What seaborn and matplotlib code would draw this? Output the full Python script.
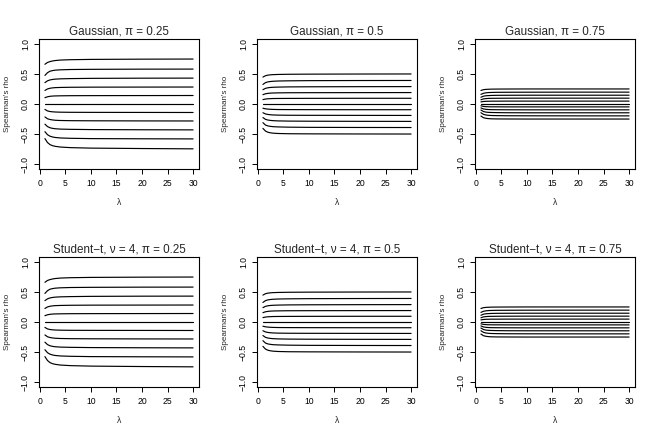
import numpy as np
import pandas as pd
import matplotlib
matplotlib.use('Agg')
import matplotlib.pyplot as plt
import seaborn as sns

sns.set_theme(style='ticks')
plt.rcParams['font.family'] = ['Liberation Sans', 'DejaVu Sans']

lam = [1, 1.5, 2, 2.5, 3, 4, 6, 10, 20, 30]

# Spearman's rho curves, top to bottom (11 curves per panel)
gauss_025 = [
    [0.66, 0.69, 0.705, 0.715, 0.722, 0.73, 0.736, 0.741, 0.745, 0.747],
    [0.475, 0.52, 0.545, 0.555, 0.562, 0.568, 0.573, 0.576, 0.579, 0.58],
    [0.355, 0.385, 0.40, 0.408, 0.413, 0.418, 0.422, 0.426, 0.429, 0.43],
    [0.225, 0.25, 0.262, 0.268, 0.272, 0.275, 0.278, 0.28, 0.281, 0.282],
    [0.105, 0.12, 0.128, 0.132, 0.134, 0.136, 0.138, 0.139, 0.14, 0.141],
    [0, 0, 0, 0, 0, 0, 0, 0, 0, 0],
    [-0.09, -0.115, -0.125, -0.13, -0.133, -0.136, -0.138, -0.139, -0.14, -0.141],
    [-0.215, -0.245, -0.258, -0.265, -0.27, -0.274, -0.277, -0.279, -0.281, -0.282],
    [-0.335, -0.375, -0.395, -0.405, -0.411, -0.417, -0.421, -0.425, -0.428, -0.43],
    [-0.46, -0.51, -0.535, -0.548, -0.556, -0.564, -0.57, -0.575, -0.578, -0.58],
    [-0.575, -0.64, -0.675, -0.693, -0.703, -0.715, -0.725, -0.733, -0.74, -0.745],
]
gauss_05 = [
    [0.447, 0.47, 0.48, 0.485, 0.488, 0.491, 0.494, 0.496, 0.498, 0.499],
    [0.325, 0.355, 0.368, 0.374, 0.378, 0.382, 0.385, 0.388, 0.39, 0.391],
    [0.238, 0.26, 0.27, 0.275, 0.278, 0.281, 0.284, 0.286, 0.288, 0.289],
    [0.155, 0.17, 0.177, 0.181, 0.183, 0.185, 0.187, 0.188, 0.189, 0.19],
    [0.073, 0.082, 0.087, 0.089, 0.091, 0.092, 0.093, 0.094, 0.095, 0.095],
    [0, 0, 0, 0, 0, 0, 0, 0, 0, 0],
    [-0.07, -0.08, -0.085, -0.088, -0.09, -0.092, -0.093, -0.094, -0.095, -0.095],
    [-0.145, -0.165, -0.174, -0.179, -0.182, -0.185, -0.187, -0.188, -0.189, -0.19],
    [-0.225, -0.255, -0.267, -0.273, -0.277, -0.281, -0.284, -0.286, -0.288, -0.289],
    [-0.31, -0.35, -0.365, -0.372, -0.377, -0.381, -0.385, -0.388, -0.39, -0.391],
    [-0.405, -0.45, -0.47, -0.479, -0.485, -0.49, -0.494, -0.496, -0.498, -0.499],
]
gauss_075 = [
    [0.225, 0.238, 0.243, 0.245, 0.247, 0.248, 0.249, 0.25, 0.25, 0.25],
    [0.16, 0.178, 0.186, 0.19, 0.192, 0.194, 0.195, 0.196, 0.197, 0.197],
    [0.112, 0.13, 0.137, 0.14, 0.142, 0.144, 0.145, 0.146, 0.146, 0.146],
    [0.07, 0.085, 0.09, 0.093, 0.094, 0.095, 0.096, 0.097, 0.097, 0.097],
    [0.035, 0.042, 0.045, 0.046, 0.047, 0.047, 0.048, 0.048, 0.048, 0.048],
    [0, 0, 0, 0, 0, 0, 0, 0, 0, 0],
    [-0.03, -0.04, -0.044, -0.046, -0.047, -0.047, -0.048, -0.048, -0.048, -0.048],
    [-0.065, -0.082, -0.089, -0.092, -0.094, -0.095, -0.096, -0.097, -0.097, -0.097],
    [-0.1, -0.125, -0.135, -0.139, -0.141, -0.143, -0.145, -0.146, -0.146, -0.146],
    [-0.145, -0.172, -0.183, -0.188, -0.191, -0.193, -0.195, -0.196, -0.197, -0.197],
    [-0.2, -0.228, -0.238, -0.243, -0.246, -0.248, -0.249, -0.25, -0.25, -0.25],
]
# the Student-t panels read the same as the Gaussian ones
t_025 = gauss_025
t_05 = gauss_05
t_075 = gauss_075

titles = ['Gaussian, π = 0.25', 'Gaussian, π = 0.5', 'Gaussian, π = 0.75',
          'Student\u2212t, ν = 4, π = 0.25', 'Student\u2212t, ν = 4, π = 0.5',
          'Student\u2212t, ν = 4, π = 0.75']
panels = [gauss_025, gauss_05, gauss_075, t_025, t_05, t_075]

xticks = [0, 5, 10, 15, 20, 25, 30]
yticks = [-1.0, -0.5, 0.0, 0.5, 1.0]
ytick_labels = ['\u22121.0', '\u22120.5', '0.0', '0.5', '1.0']

W, H = 654, 436
fig = plt.figure(figsize=(W / 100, H / 100), dpi=100)

for i, (title, curves) in enumerate(zip(titles, panels)):
    r, c = divmod(i, 3)
    left = (c * 218 + 39) / W
    bottom = 1 - (r * 218 + 169) / H
    ax = fig.add_axes([left, bottom, 160 / W, 130 / H])

    df = pd.DataFrame([(k, x, v) for k, row in enumerate(curves) for x, v in zip(lam, row)],
                      columns=['curve', 'lam', 'rho'])
    sns.lineplot(data=df, x='lam', y='rho', units='curve', estimator=None,
                 color='black', lw=0.85, ax=ax, legend=False)

    ax.set_xlim(-0.16, 31.16)
    ax.set_ylim(-1.08, 1.08)
    ax.set_xticks(xticks)
    ax.set_xticklabels([str(t) for t in xticks])
    ax.set_yticks(yticks)
    ax.set_yticklabels(ytick_labels, rotation=90, va='center')
    ax.tick_params(direction='out', length=3.5, width=0.7, colors='black',
                   labelsize=6.2, pad=3)
    ax.tick_params(axis='x', pad=4)
    ax.set_xlabel('λ', fontsize=6.2, labelpad=7)
    ax.set_ylabel("Spearman's rho", fontsize=5.8, labelpad=7)
    ax.set_title(title, fontsize=8.4, pad=3.5)
    for s in ax.spines.values():
        s.set_visible(True)
        s.set_color('black')
        s.set_linewidth(0.8)

fig.savefig('out.png', dpi=100, facecolor='white')
